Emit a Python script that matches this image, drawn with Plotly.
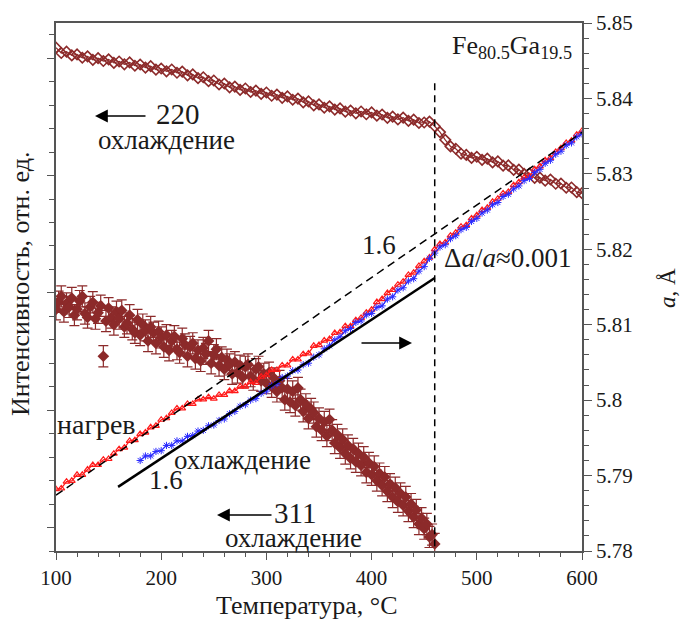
import plotly.graph_objects as go

# ---------------- data ----------------
# temperatures (°C)
T_heat = list(range(100, 605, 5))
a_heat = [5.7882, 5.7883, 5.7892, 5.7893, 5.7901, 5.7901, 5.7908, 5.7914, 5.7914, 5.7921,
          5.7922, 5.7929, 5.7935, 5.7937, 5.7946, 5.7947, 5.7955, 5.7957, 5.7964, 5.7966,
          5.7974, 5.7976, 5.7983, 5.7989, 5.7989, 5.7995, 5.7995, 5.8001, 5.8001, 5.8004,
          5.8002, 5.8007, 5.8007, 5.8012, 5.8012, 5.8018, 5.8018, 5.8024, 5.8023, 5.8031,
          5.8033, 5.8040, 5.8040, 5.8046, 5.8046, 5.8054, 5.8054, 5.8061, 5.8062, 5.8072,
          5.8073, 5.8079, 5.8081, 5.8089, 5.8090, 5.8098, 5.8098, 5.8106, 5.8109, 5.8116,
          5.8120, 5.8130, 5.8134, 5.8142, 5.8146, 5.8153, 5.8157, 5.8166, 5.8169, 5.8178,
          5.8184, 5.8189, 5.8200, 5.8207, 5.8209, 5.8218, 5.8222, 5.8230, 5.8232, 5.8241,
          5.8245, 5.8252, 5.8255, 5.8263, 5.8267, 5.8274, 5.8276, 5.8285, 5.8289, 5.8295,
          5.8297, 5.8306, 5.8310, 5.8318, 5.8321, 5.8329, 5.8334, 5.8341, 5.8344, 5.8352,
          5.8357]

T_cool = list(range(180, 605, 5))
a_cool = [5.7920, 5.7926, 5.7926, 5.7932, 5.7933, 5.7940, 5.7940, 5.7946, 5.7946, 5.7952,
          5.7953, 5.7959, 5.7960, 5.7966, 5.7967, 5.7973, 5.7975, 5.7982, 5.7985, 5.7992,
          5.7994, 5.8000, 5.8002, 5.8009, 5.8012, 5.8019, 5.8022, 5.8030, 5.8032, 5.8039,
          5.8040, 5.8047, 5.8049, 5.8057, 5.8060, 5.8068, 5.8072, 5.8080, 5.8084, 5.8092,
          5.8095, 5.8103, 5.8105, 5.8113, 5.8115, 5.8123, 5.8125, 5.8134, 5.8137, 5.8146,
          5.8149, 5.8158, 5.8161, 5.8171, 5.8177, 5.8188, 5.8195, 5.8203, 5.8206, 5.8214,
          5.8218, 5.8226, 5.8229, 5.8237, 5.8241, 5.8248, 5.8252, 5.8259, 5.8262, 5.8270,
          5.8273, 5.8280, 5.8284, 5.8291, 5.8294, 5.8302, 5.8306, 5.8314, 5.8318, 5.8326,
          5.8330, 5.8338, 5.8341, 5.8349, 5.8353]

T_220 = list(range(100, 605, 5))
I_220 = [21.45, 21.22, 21.28, 21.12, 21.16, 21.02, 21.08, 20.93, 21.00, 20.88,
         20.95, 20.80, 20.86, 20.74, 20.82, 20.68, 20.73, 20.60, 20.66, 20.51,
         20.56, 20.44, 20.52, 20.38, 20.43, 20.27, 20.31, 20.15, 20.19, 20.02,
         20.05, 19.88, 19.92, 19.76, 19.79, 19.65, 19.71, 19.56, 19.62, 19.48,
         19.54, 19.40, 19.45, 19.31, 19.37, 19.23, 19.28, 19.12, 19.16, 18.99,
         19.03, 18.89, 18.95, 18.81, 18.86, 18.72, 18.77, 18.65, 18.73, 18.61,
         18.69, 18.55, 18.60, 18.46, 18.51, 18.39, 18.47, 18.33, 18.38, 18.24,
         18.26, 18.30, 18.10, 17.85, 17.52, 17.24, 17.14, 16.93, 16.88, 16.75,
         16.80, 16.67, 16.72, 16.56, 16.60, 16.42, 16.43, 16.24, 16.25, 16.07,
         16.08, 15.90, 15.91, 15.78, 15.83, 15.65, 15.66, 15.48, 15.49, 15.29,
         15.25]

I_311 = [10.30, 10.62, 10.85, 10.20, 10.55, 10.40, 10.78, 10.05, 10.30, 10.65,
         10.85, 10.12, 9.95, 10.40, 10.60, 9.90, 10.15, 10.45, 8.30, 9.80,
         10.35, 9.95, 9.65, 10.20, 9.90, 10.25, 9.55, 9.70, 10.05, 9.45,
         9.30, 9.85, 9.20, 9.65, 9.40, 8.95, 9.55, 9.30, 8.85, 9.35,
         9.10, 8.70, 9.20, 8.55, 8.95, 9.15, 8.60, 8.45, 9.05, 8.80,
         8.30, 8.70, 8.85, 8.20, 8.55, 8.10, 8.65, 8.40, 8.95, 8.00,
         8.35, 8.60, 7.90, 8.25, 7.75, 8.15, 7.95, 7.55, 8.05, 7.60,
         7.90, 7.40, 7.85, 7.95, 7.45, 7.30, 7.75, 7.85, 7.25, 7.55,
         7.15, 7.60, 7.00, 7.35, 6.80, 7.25, 6.95, 6.45, 6.90, 6.35,
         6.80, 6.20, 6.95, 6.45, 5.95, 6.25, 5.65, 6.05, 5.90, 5.30,
         5.65, 5.15, 5.50, 4.90, 5.60, 5.15, 4.60, 4.95, 4.40, 4.75,
         4.15, 4.50, 3.95, 4.35, 3.80, 4.15, 3.65, 4.00, 3.35, 3.75,
         3.25, 3.60, 3.00, 3.30, 2.80, 3.15, 2.55, 2.85, 2.30, 2.70,
         2.10, 2.45, 1.95, 2.30, 1.70, 2.00, 1.45, 1.75, 1.15, 1.40,
         0.95, 1.15, 0.60, 0.70, 0.30]
T_311 = [100 + 2.5 * i for i in range(len(I_311))]
I_311_err = 0.45

# linear fits (slope labelled 1.6 ×10^-5 1/°C)
fit_heat_T = [100, 600]
fit_heat_a = [5.7874, 5.8355]
fit_cool_T = [159, 460]
fit_cool_a = [5.7885, 5.8162]

# transition temperature marker
T_trans = [460, 460]
a_trans = [5.842, 5.78]

# axes
x_range = [100, 600]
a_range = [5.78, 5.85]
I_range = [0, 22.5]

# ---------------- style ----------------
BROWN = '#8c2a2a'
RED = '#ff1a1a'
BLUE = '#2a2aff'
AX = '#555555'
FONT = 'Liberation Serif, Times New Roman, DejaVu Serif, serif'

fig = go.Figure()

fig.add_trace(go.Scatter(x=T_220, y=I_220, mode='lines+markers', yaxis='y',
                         line=dict(width=1.2, color=BROWN),
                         marker=dict(symbol='diamond-open', size=8, color=BROWN,
                                     line=dict(width=1.6, color=BROWN))))
fig.add_trace(go.Scatter(x=T_311, y=I_311, mode='markers', yaxis='y',
                         error_y=dict(type='constant', value=I_311_err, color=BROWN,
                                      thickness=1.2, width=5),
                         marker=dict(symbol='diamond', size=9, color=BROWN)))

fig.add_trace(go.Scatter(x=T_heat, y=a_heat, mode='lines+markers', yaxis='y2',
                         line=dict(width=1.2, color=RED),
                         marker=dict(symbol='triangle-up-open', size=6, color=RED,
                                     line=dict(width=1.2, color=RED))))
fig.add_trace(go.Scatter(x=T_cool, y=a_cool, mode='lines+markers', yaxis='y2',
                         line=dict(width=1.2, color=BLUE),
                         marker=dict(symbol='asterisk-open', size=6, color=BLUE,
                                     line=dict(width=1, color=BLUE))))
fig.add_trace(go.Scatter(x=fit_heat_T, y=fit_heat_a, mode='lines', yaxis='y2',
                         line=dict(color='black', width=1.5, dash='8px,5px')))
fig.add_trace(go.Scatter(x=fit_cool_T, y=fit_cool_a, mode='lines', yaxis='y2',
                         line=dict(color='black', width=2.5)))
fig.add_trace(go.Scatter(x=T_trans, y=a_trans, mode='lines', yaxis='y2',
                         line=dict(color='black', width=1.5, dash='7px,5px')))

L, R, T, B = 56, 582, 23, 551


def px(x):
    return (x - L) / (R - L)


def py(y):
    return (B - y) / (B - T)


def txt(x, y, s, size, angle=0, xanchor='center'):
    fig.add_annotation(x=px(x), y=py(y), xref='paper', yref='paper', text=s,
                       showarrow=False, xanchor=xanchor, yanchor='middle',
                       textangle=angle, font=dict(family=FONT, size=size, color='#1a1a1a'))


def arrow(xh, yh, dx):
    fig.add_annotation(x=px(xh), y=py(yh), xref='paper', yref='paper', text='',
                       showarrow=True, ax=dx, ay=0, arrowhead=2, arrowsize=1.6,
                       arrowwidth=1.6, arrowcolor='black')


txt(574, 47, 'Fe<sub>80.5</sub>Ga<sub>19.5</sub>', 26, xanchor='right')
txt(178, 114, '220', 29)
txt(166, 140, 'охлаждение', 27)
arrow(95, 116, 52)
txt(379, 245, '1.6', 27)
txt(507, 258, 'Δ<i>a</i>/<i>a</i>≈0.001', 27)
arrow(412, 343, -52)
txt(96, 424, 'нагрев', 28)
txt(242, 460, 'охлаждение', 27)
txt(166, 480, '1.6', 27)
txt(295, 513, '311', 29)
arrow(217, 515, 56)
txt(293, 538, 'охлаждение', 27)
txt(307, 605, 'Температура, °C', 26)
txt(20, 284, 'Интенсивность, отн. ед.', 26, angle=-90)
txt(667, 288, '<i>a</i>, Å', 23, angle=-90)

axis_common = dict(showgrid=False, zeroline=False, showline=True, linecolor=AX,
                   linewidth=1.5, ticks='outside', tickcolor=AX, tickwidth=1.3)

fig.update_layout(
    width=682, height=621,
    margin=dict(l=L, r=682 - R, t=T, b=621 - B),
    paper_bgcolor='white', plot_bgcolor='white', showlegend=False,
    font=dict(family=FONT, size=20, color='#1a1a1a'),
    xaxis=dict(range=x_range, tick0=100, dtick=100, ticklen=7, mirror=True,
               tickfont=dict(family=FONT, size=21),
               minor=dict(dtick=20, ticks='outside', ticklen=4, tickcolor=AX),
               **axis_common),
    yaxis=dict(range=I_range, tick0=1, dtick=5, ticklen=7, showticklabels=False,
               side='left',
               minor=dict(dtick=1, ticks='outside', ticklen=5, tickcolor=AX),
               **axis_common),
    yaxis2=dict(range=a_range, overlaying='y', side='right', tick0=5.78, dtick=0.01,
                ticklen=8, tickfont=dict(family=FONT, size=21),
                minor=dict(dtick=0.002, ticks='outside', ticklen=5, tickcolor=AX),
                **axis_common),
)

fig.write_html('out.html')
